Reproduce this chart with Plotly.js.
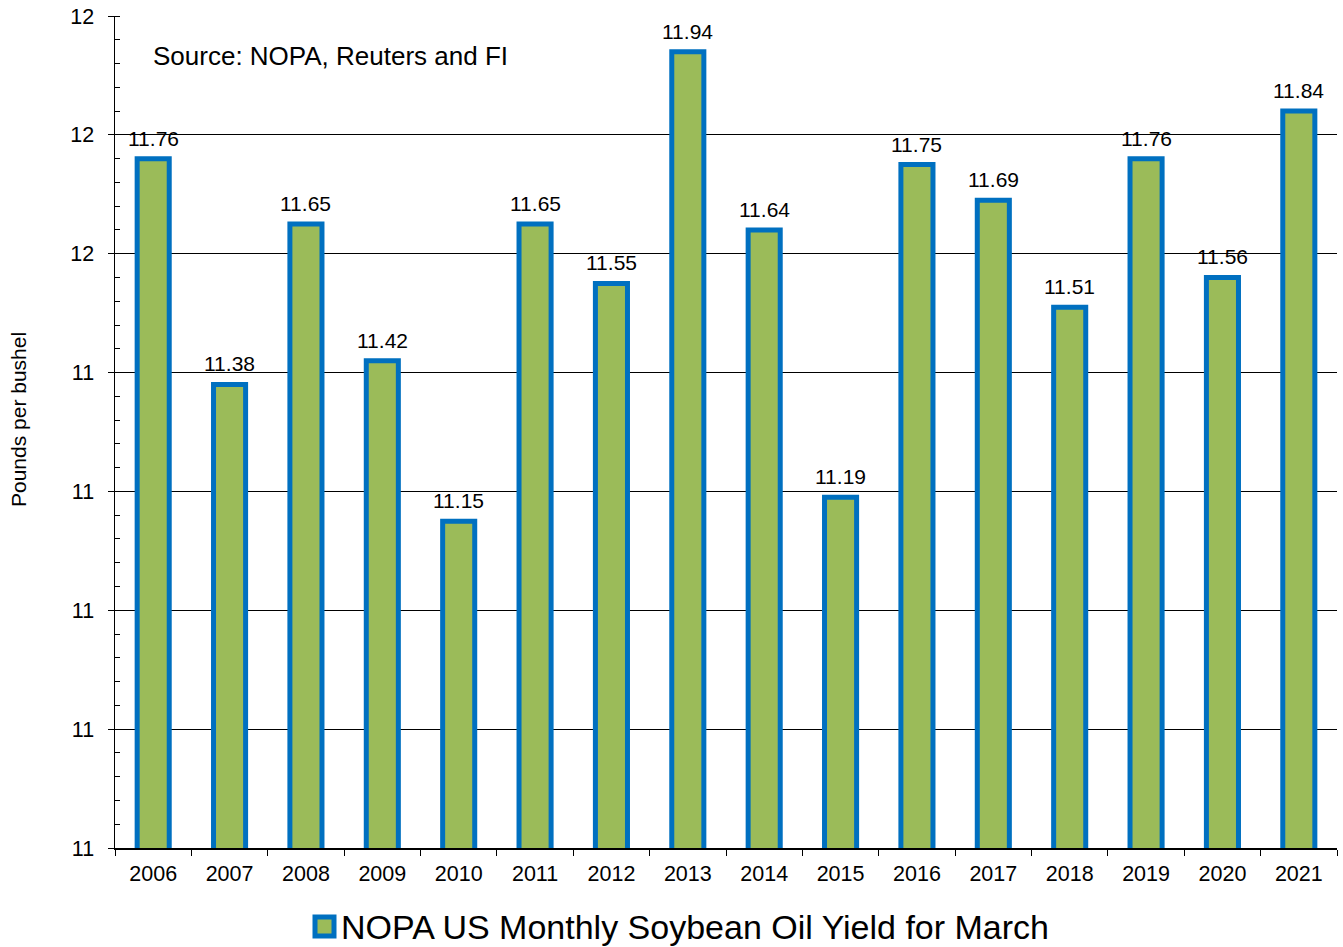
<!DOCTYPE html>
<html>
<head>
<meta charset="utf-8">
<script src="https://cdn.plot.ly/plotly-3.0.1.min.js"></script>
<style>html,body{margin:0;padding:0;background:#fff;}#chart{width:1343px;height:947px;}</style>
</head>
<body>
<div id="chart"></div>
<script>
const years = ["2006","2007","2008","2009","2010","2011","2012","2013","2014","2015","2016","2017","2018","2019","2020","2021"];
const yields = [11.76, 11.38, 11.65, 11.42, 11.15, 11.65, 11.55, 11.94, 11.64, 11.19, 11.75, 11.69, 11.51, 11.76, 11.56, 11.84];
const seriesName = "NOPA US Monthly Soybean Oil Yield for March";
const yTicks = [10.6, 10.8, 11.0, 11.2, 11.4, 11.6, 11.8, 12.0];
const yTitle = "Pounds per bushel";
const sourceNote = "Source: NOPA, Reuters and FI";

const font = "Liberation Sans, Arial, sans-serif";
const green = "#9BBB59";
const blue = "#0070C0";

const trace = {
  type: "bar",
  x: years,
  y: yields,
  name: seriesName,
  marker: {color: green, line: {color: blue, width: 5}},
  width: 0.42,
  showlegend: false,
  hoverinfo: "skip"
};

// value labels above bars, positioned through the data axes (category index)
const valueLabels = years.map((yr, i) => ({
  x: i, y: yields[i], xref: "x", yref: "y",
  text: yields[i].toFixed(2),
  showarrow: false, xanchor: "center", yanchor: "bottom", yshift: 7,
  font: {family: font, size: 21, color: "#000"}
}));

const layout = {
  width: 1343,
  height: 947,
  margin: {l: 115, r: 6, t: 16, b: 99, autoexpand: false},
  paper_bgcolor: "#fff",
  plot_bgcolor: "#fff",
  font: {family: font, color: "#000"},
  showlegend: false,
  xaxis: {
    type: "category",
    categoryorder: "array",
    categoryarray: years,
    range: [-0.5, years.length - 0.5],
    autorange: false,
    automargin: false,
    tickangle: 0,
    showline: true, linecolor: "#000", linewidth: 1.5,
    ticks: "outside", ticklen: 6, tickcolor: "#000", tickwidth: 1,
    tickson: "boundaries",
    ticklabelstandoff: 6,
    tickfont: {family: font, size: 21.5, color: "#000"},
    showgrid: false,
    zeroline: false
  },
  yaxis: {
    range: [10.6, 12.0],
    autorange: false,
    automargin: false,
    tickvals: yTicks,
    tickformat: ".0f",
    showline: true, linecolor: "#000", linewidth: 1.5,
    ticks: "outside", ticklen: 6, tickcolor: "#000", tickwidth: 1,
    ticklabelstandoff: 9,
    tickfont: {family: font, size: 21.5, color: "#000"},
    showgrid: true, gridcolor: "#000", gridwidth: 1,
    zeroline: false,
    minor: {dtick: 0.04, tick0: 10.6, ticks: "inside", ticklen: 5, tickcolor: "#000", tickwidth: 1, showgrid: false}
  },
  shapes: [{
    type: "rect", xref: "paper", yref: "paper",
    x0: (315 - 115) / 1222, x1: (334 - 115) / 1222,
    y0: (848 - 936) / 832, y1: (848 - 917) / 832,
    fillcolor: green, line: {color: blue, width: 5}
  }],
  annotations: valueLabels.concat([
    {
      text: sourceNote,
      xref: "paper", yref: "paper",
      x: (151 - 115) / 1222, y: (848 - 56) / 832, xanchor: "left", yanchor: "middle",
      showarrow: false,
      font: {family: font, size: 26, color: "#000"}
    },
    {
      text: yTitle,
      xref: "paper", yref: "paper",
      x: (18 - 115) / 1222, y: (848 - 420) / 832, xanchor: "center", yanchor: "middle",
      textangle: -90,
      showarrow: false,
      font: {family: font, size: 21, color: "#000"}
    },
    {
      text: seriesName,
      xref: "paper", yref: "paper",
      x: (339 - 115) / 1222, y: (848 - 927) / 832, xanchor: "left", yanchor: "middle",
      showarrow: false,
      font: {family: font, size: 34, color: "#000"}
    }
  ])
};

Plotly.newPlot("chart", [trace], layout, {displayModeBar: false, staticPlot: true});
</script>
</body>
</html>
